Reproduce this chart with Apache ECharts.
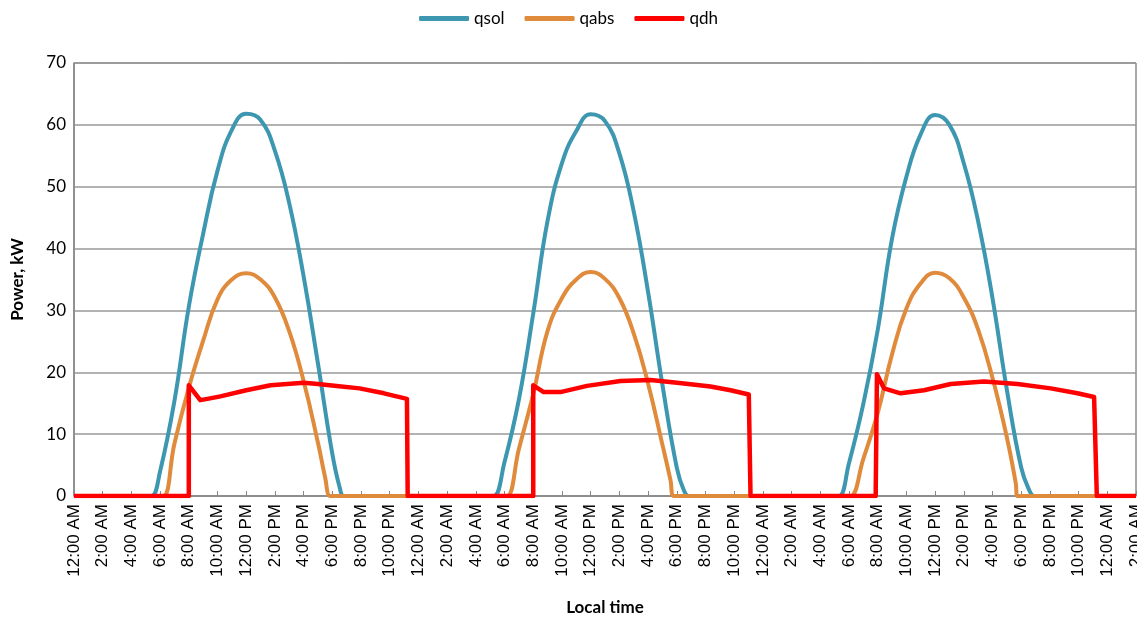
<!DOCTYPE html>
<html>
<head>
<meta charset="utf-8">
<script src="https://cdn.jsdelivr.net/npm/echarts@6/dist/echarts.min.js"></script>
<style>
html,body{margin:0;padding:0;background:#fff;}
#chart{width:1137px;height:618px;}
</style>
</head>
<body>
<div id="chart"></div>
<script>
// Tick labels (every 2 hours)
var timeLabels = ['12:00 AM','2:00 AM','4:00 AM','6:00 AM','8:00 AM','10:00 AM','12:00 PM','2:00 PM','4:00 PM','6:00 PM','8:00 PM','10:00 PM'];
var seriesNames = ['qsol','qabs','qdh'];

// [hour since start, kW]
var qsol = [
  [0,0],[5.0,0],[5.4,0],[6,4.0],[7,15.4],[8,30.6],[9,42.4],[10,52.6],[11,59.2],[12,61.8],[13,60.8],[14,55.8],[15,47.3],[16,35.5],[17,21.4],[18,6.8],[18.5,1.5],[18.8,0],[19.2,0],
  [28.8,0],[29.24,0],[30,5.5],[31,15.6],[32,29.5],[33,44.5],[34,53.8],[35,59.0],[36,61.7],[37,60.6],[38,55.4],[39,46.0],[40,33.0],[41,18.0],[42,4.6],[42.5,0.9],[42.84,0],[43.2,0],
  [52.9,0],[53.3,0],[54,5.3],[55,14.9],[56,26.8],[57,41.6],[58,51.6],[59,58.5],[60,61.6],[61,60.0],[62,53.8],[63,44.4],[64,32.0],[65,17.2],[66,4.6],[66.55,1.0],[66.9,0],[67.3,0],[74,0]
];
var qabs = [
  [0,0],[5.8,0],[6.23,0],[7,8.5],[8,17.5],[9,25.1],[10,31.8],[11,35.0],[12,36.0],[13,35.0],[14,32.1],[15,26.6],[16,18.6],[17,8.6],[17.5,3.0],[17.85,0],[18.2,0],
  [29.8,0],[30.17,0],[31,7.6],[32,16.5],[33,26.7],[34,32.0],[35,35.0],[36,36.2],[37,35.1],[38,32.0],[39,26.3],[40,18.2],[41,8.3],[41.56,2.6],[41.79,0],[42.2,0],
  [53.7,0],[54.1,0],[55,6.0],[56,13.4],[57,22.9],[58,30.3],[59,34.4],[60,36.1],[61,35.2],[62,32.1],[63,26.9],[64,19.1],[65,9.5],[65.62,2.1],[65.74,0],[66.1,0],[74,0]
];
var qdh = [
  [0,0],[8.0,0],[8.0,17.9],[8.8,15.5],[9.3,15.7],[10.2,16.1],[12.0,17.1],[13.7,17.9],[16.0,18.3],[17.0,18.1],[18.3,17.8],[19.9,17.4],[21.6,16.6],[23.2,15.7],[23.25,0],
  [32.0,0],[32.0,17.9],[32.73,16.8],[33.89,16.8],[35.75,17.8],[38.08,18.6],[40.17,18.75],[42.03,18.3],[44.35,17.7],[45.75,17.1],[47.02,16.4],[47.14,0],
  [55.86,0],[55.95,19.7],[56.44,17.4],[57.6,16.6],[59.23,17.1],[61.09,18.1],[63.41,18.5],[65.74,18.1],[68.06,17.4],[69.92,16.6],[71.08,16.0],[71.27,0],[74,0]
];

var colors = ['#3E97B0','#E08A3C','#FF0000'];

var chart = echarts.init(document.getElementById('chart'), null, {renderer:'canvas'});
var option = {
  animation: false,
  color: colors,
  legend: {
    top: 5,
    left: 'center',
    itemWidth: 50,
    itemHeight: 5,
    itemGap: 20,
    icon: 'roundRect',
    textStyle: {fontFamily: 'Lato', fontSize: 17, color: '#000'},
    data: seriesNames
  },
  grid: {
    left: 74, right: 1, top: 63, bottom: 122,
    outerBoundsMode: 'none',
    containLabel: false,
    show: true, borderColor: '#555', borderWidth: 1
  },
  xAxis: {
    type: 'value',
    min: 0, max: 74, interval: 2,
    name: 'Local time',
    nameLocation: 'middle',
    nameGap: 103,
    nameTextStyle: {fontFamily: 'Lato', fontWeight: 'bold', fontSize: 17, color: '#000'},
    axisLine: {lineStyle: {color: '#888', width: 1.5}},
    axisTick: {inside: true, length: 5, lineStyle: {color: '#888'}},
    splitLine: {show: false},
    axisLabel: {
      rotate: 90,
      margin: 8,
      fontFamily: 'Liberation Sans',
      fontSize: 17,
      color: '#000',
      hideOverlap: false,
      formatter: function (v) { return timeLabels[Math.round(v / 2) % 12]; }
    }
  },
  yAxis: {
    type: 'value',
    min: 0, max: 70, interval: 10,
    name: 'Power, kW',
    nameLocation: 'middle',
    nameGap: 48,
    nameTextStyle: {fontFamily: 'Lato', fontWeight: 'bold', fontSize: 17, color: '#000'},
    axisLine: {show: true, lineStyle: {color: '#888', width: 1.5}},
    axisTick: {show: false},
    splitLine: {lineStyle: {color: '#999', width: 1.5}},
    axisLabel: {fontFamily: 'Lato', fontSize: 17, color: '#000', margin: 8}
  },
  series: [
    {name: seriesNames[0], type: 'line', data: qsol, showSymbol: false, smooth: 0.45, lineStyle: {width: 4, color: colors[0]}, itemStyle: {color: colors[0]}, z: 2},
    {name: seriesNames[1], type: 'line', data: qabs, showSymbol: false, smooth: 0.45, lineStyle: {width: 4, color: colors[1]}, itemStyle: {color: colors[1]}, z: 3},
    {name: seriesNames[2], type: 'line', data: qdh, showSymbol: false, smooth: false, lineStyle: {width: 4.5, color: colors[2], join: 'round'}, itemStyle: {color: colors[2]}, z: 4}
  ]
};
chart.setOption(option);
</script>
</body>
</html>
